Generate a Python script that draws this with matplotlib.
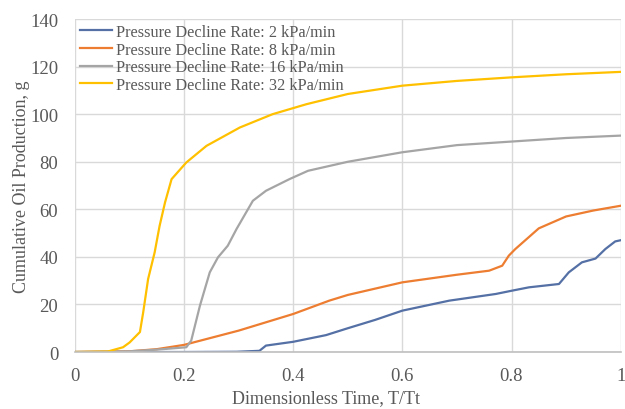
import matplotlib.pyplot as plt

plt.rcParams['font.family'] = ['Liberation Serif', 'DejaVu Serif']

x_2 = [0, 0.1, 0.2, 0.296, 0.338, 0.35, 0.4, 0.46, 0.5, 0.55, 0.6, 0.686,
       0.771, 0.801, 0.832, 0.887, 0.905, 0.929, 0.954, 0.972, 0.99, 1.0]
y_2 = [0, 0, 0, 0.1, 0.5, 2.7, 4.3, 7.1, 10, 13.5, 17.4, 21.6,
       24.4, 25.8, 27.2, 28.6, 33.5, 37.7, 39.3, 43.3, 46.5, 47]

x_8 = [0, 0.1, 0.15, 0.2, 0.3, 0.4, 0.466, 0.5, 0.6, 0.7, 0.759, 0.783,
       0.795, 0.807, 0.85, 0.9, 0.95, 1.0]
y_8 = [0, 0.3, 1.2, 3, 9, 16, 21.6, 24, 29.3, 32.5, 34.2, 36.3,
       40.5, 43.3, 52, 57, 59.5, 61.5]

x_16 = [0, 0.1, 0.15, 0.204, 0.213, 0.229, 0.247, 0.262, 0.28, 0.296, 0.326,
        0.35, 0.393, 0.427, 0.5, 0.6, 0.7, 0.8, 0.9, 1.0]
y_16 = [0, 0.3, 1, 2, 4.8, 19.5, 33.5, 39.8, 44.7, 51.7, 63.6,
        67.8, 72.7, 76.2, 80, 84, 87, 88.5, 90, 91]

x_32 = [0, 0.06, 0.088, 0.1, 0.119, 0.125, 0.134, 0.146, 0.155, 0.165, 0.177,
        0.204, 0.241, 0.302, 0.362, 0.424, 0.5, 0.6, 0.7, 0.8, 0.9, 1.0]
y_32 = [0, 0.2, 2, 4, 8.4, 16.7, 30.7, 41.9, 53, 62.9, 72.7,
        79.7, 86.7, 94.4, 100, 104.2, 108.5, 112, 114, 115.5, 116.8, 117.8]

labels = ["Pressure Decline Rate: 2 kPa/min",
          "Pressure Decline Rate: 8 kPa/min",
          "Pressure Decline Rate: 16 kPa/min",
          "Pressure Decline Rate: 32 kPa/min"]
colors = ["#5470a5", "#ed7d31", "#a5a5a5", "#ffc000"]

fig = plt.figure(figsize=(6.25, 4.1), dpi=100)
ax = fig.add_axes([0.12, 0.139, 0.873, 0.812])

series = [(x_2, y_2), (x_8, y_8), (x_16, y_16), (x_32, y_32)]
for (xs, ys), lab, col in zip(series, labels, colors):
    ax.plot(xs, ys, color=col, lw=1.6, label=lab)

ax.set_xlim(0, 1)
ax.set_ylim(0, 140)
ax.set_xticks([0, 0.2, 0.4, 0.6, 0.8, 1])
ax.set_xticklabels(["0", "0.2", "0.4", "0.6", "0.8", "1"])
ax.set_yticks(range(0, 141, 20))
ax.grid(True, color="#d9d9d9", lw=1)
ax.set_axisbelow(True)

for side in ["top", "right", "left"]:
    ax.spines[side].set_visible(False)
ax.spines["bottom"].set_color("#bfbfbf")
ax.spines["bottom"].set_linewidth(1.2)

ax.tick_params(length=0, labelsize=13.5, colors="#595959")
ax.tick_params(axis="x", pad=11)
ax.tick_params(axis="y", pad=12)
ax.set_xlabel("Dimensionless Time, T/Tt", fontsize=13, color="#595959")
ax.xaxis.set_label_coords(0.46, -0.11)
ax.set_ylabel("Cumulative Oil Production, g", fontsize=13, color="#595959")
ax.yaxis.set_label_coords(-0.082, 0.5)

leg = ax.legend(loc="upper left", frameon=False, fontsize=11.7, handlelength=2.0,
                handletextpad=0.2, labelspacing=0.1, borderaxespad=0.0,
                borderpad=0.3, bbox_to_anchor=(0.0, 1.0))
for t in leg.get_texts():
    t.set_color("#595959")

fig.savefig("out.png", dpi=100)
